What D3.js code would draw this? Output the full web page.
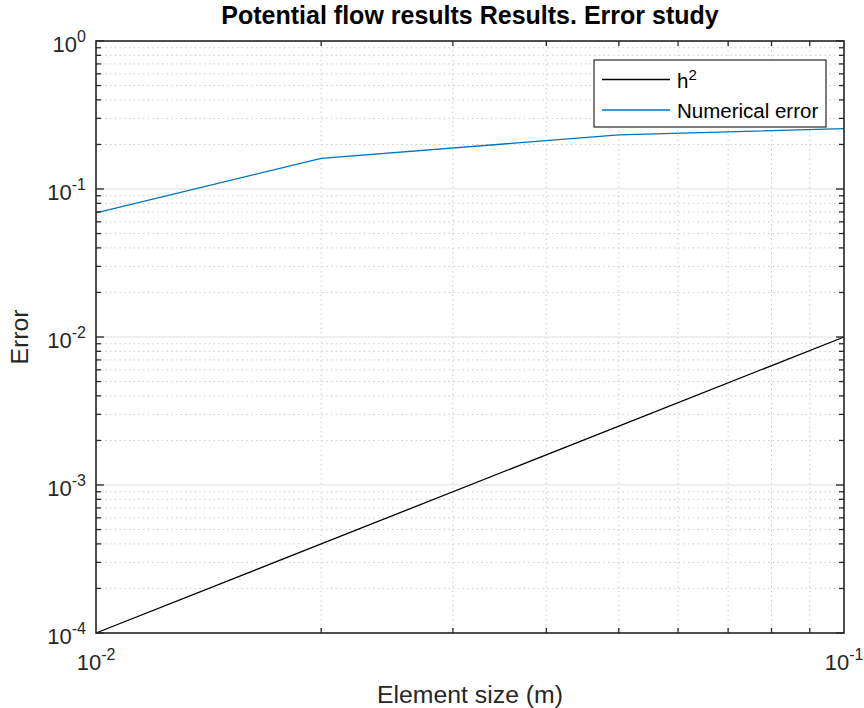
<!DOCTYPE html>
<html>
<head>
<meta charset="utf-8">
<script src="https://cdn.jsdelivr.net/npm/d3@7"></script>
<style>
  html, body { margin: 0; padding: 0; background: #fff; }
  svg { display: block; font-family: "Liberation Sans", Arial, Helvetica, sans-serif; }
</style>
</head>
<body>
<svg id="chart" width="864" height="708"></svg>
<script>
// Element sizes (m) and the two error curves
const elementSize = [0.01, 0.02, 0.05, 0.1];
const hSquared = [1e-4, 4e-4, 2.5e-3, 1e-2];
const numericalError = [0.0689, 0.161, 0.232, 0.2555];

// Decade tick exponents on each axis
const xTickExponents = [-2, -1];
const yTickExponents = [0, -1, -2, -3, -4];

const seriesNames = ["h", "Numerical error"];

const W = 864, H = 708;
const m = { left: 96, right: 20, top: 41, bottom: 75 };
const x0 = m.left, x1 = W - m.right, y0 = m.top, y1 = H - m.bottom;
const ink = "#262626";

const svg = d3.select("#chart");

const x = d3.scaleLog().domain([0.01, 0.1]).range([x0, x1]);
const y = d3.scaleLog().domain([1e-4, 1]).range([y1, y0]);

const isDecade = v => Math.abs(Math.log10(v) - Math.round(Math.log10(v))) < 1e-9;
const xMinor = x.ticks().filter(v => !isDecade(v));
const yMinor = y.ticks().filter(v => !isDecade(v));
const xMajor = xTickExponents.map(e => Math.pow(10, e));
const yMajor = yTickExponents.map(e => Math.pow(10, e));

// Minor grid (dotted)
const grid = svg.append("g");
grid.selectAll(".gxm").data(xMinor).join("line")
  .attr("x1", d => x(d)).attr("x2", d => x(d)).attr("y1", y0).attr("y2", y1)
  .attr("stroke", "#c4c4c4").attr("stroke-width", 1).attr("stroke-dasharray", "1.3,3.4");
grid.selectAll(".gym").data(yMinor).join("line")
  .attr("y1", d => y(d)).attr("y2", d => y(d)).attr("x1", x0).attr("x2", x1)
  .attr("stroke", "#c4c4c4").attr("stroke-width", 1).attr("stroke-dasharray", "1.3,3.4");
// Major grid (solid, faint)
grid.selectAll(".gyM").data(yMajor).join("line")
  .attr("y1", d => y(d)).attr("y2", d => y(d)).attr("x1", x0).attr("x2", x1)
  .attr("stroke", "#dedede").attr("stroke-width", 1);
grid.selectAll(".gxM").data(xMajor).join("line")
  .attr("x1", d => x(d)).attr("x2", d => x(d)).attr("y1", y0).attr("y2", y1)
  .attr("stroke", "#dedede").attr("stroke-width", 1);

// Data lines
const pts = (ys) => elementSize.map((v, i) => [v, ys[i]]);
const line = d3.line().x(d => x(d[0])).y(d => y(d[1]));
svg.append("path").datum(pts(hSquared)).attr("d", line)
  .attr("fill", "none").attr("stroke", "#000").attr("stroke-width", 1.3);
svg.append("path").datum(pts(numericalError)).attr("d", line)
  .attr("fill", "none").attr("stroke", "#0072BD").attr("stroke-width", 1.3);

// Inward ticks on all four sides
const ticks = svg.append("g").attr("stroke", ink).attr("stroke-width", 1.3);
const tickSetX = (vals, len) => {
  vals.forEach(v => {
    const xv = x(v);
    ticks.append("line").attr("x1", xv).attr("x2", xv).attr("y1", y1).attr("y2", y1 - len);
    ticks.append("line").attr("x1", xv).attr("x2", xv).attr("y1", y0).attr("y2", y0 + len);
  });
};
const tickSetY = (vals, len) => {
  vals.forEach(v => {
    const yv = y(v);
    ticks.append("line").attr("y1", yv).attr("y2", yv).attr("x1", x0).attr("x2", x0 + len);
    ticks.append("line").attr("y1", yv).attr("y2", yv).attr("x1", x1).attr("x2", x1 - len);
  });
};
tickSetX(xMinor, 5);
tickSetY(yMinor, 5);
tickSetY(yMajor, 8);

// Axes box
svg.append("rect").attr("x", x0).attr("y", y0).attr("width", x1 - x0).attr("height", y1 - y0)
  .attr("fill", "none").attr("stroke", ink).attr("stroke-width", 1.6);

// Tick labels: 10 with superscript exponent
const powLabel = (g, e) => {
  g.append("tspan").text("10");
  g.append("tspan").attr("dy", -10).attr("font-size", 16).text(String(e));
};
xTickExponents.forEach(e => {
  const t = svg.append("text").attr("x", x(Math.pow(10, e))).attr("y", y1 + 37)
    .attr("text-anchor", "middle").attr("fill", ink).attr("font-size", 22);
  powLabel(t, e);
});
yTickExponents.forEach(e => {
  const t = svg.append("text").attr("x", x0 - 10).attr("y", y(Math.pow(10, e)) + 11)
    .attr("text-anchor", "end").attr("fill", ink).attr("font-size", 22);
  powLabel(t, e);
});

// Axis labels and title
svg.append("text").attr("x", (x0 + x1) / 2).attr("y", 703).attr("text-anchor", "middle")
  .attr("fill", ink).attr("font-size", 24.8).text("Element size (m)");
svg.append("text").attr("transform", `translate(28,${(y0 + y1) / 2}) rotate(-90)`)
  .attr("text-anchor", "middle").attr("fill", ink).attr("font-size", 24.8).text("Error");
svg.append("text").attr("x", (x0 + x1) / 2).attr("y", 24).attr("text-anchor", "middle")
  .attr("fill", "#000").attr("font-size", 25).attr("font-weight", "bold")
  .text("Potential flow results Results. Error study");

// Legend
const lg = svg.append("g");
lg.append("rect").attr("x", 594).attr("y", 60).attr("width", 232).attr("height", 67)
  .attr("fill", "#fff").attr("stroke", ink).attr("stroke-width", 1.2);
const legendColors = ["#000", "#0072BD"];
const legendY = [79.5, 110];
seriesNames.forEach((name, i) => {
  lg.append("line").attr("x1", 602).attr("x2", 670).attr("y1", legendY[i]).attr("y2", legendY[i])
    .attr("stroke", legendColors[i]).attr("stroke-width", 1.3);
  const t = lg.append("text").attr("x", 677).attr("y", legendY[i] + 8)
    .attr("fill", "#000").attr("font-size", 20.5);
  t.append("tspan").text(name);
  if (i === 0) t.append("tspan").attr("dy", -8).attr("font-size", 15).text("2");
});
</script>
</body>
</html>
